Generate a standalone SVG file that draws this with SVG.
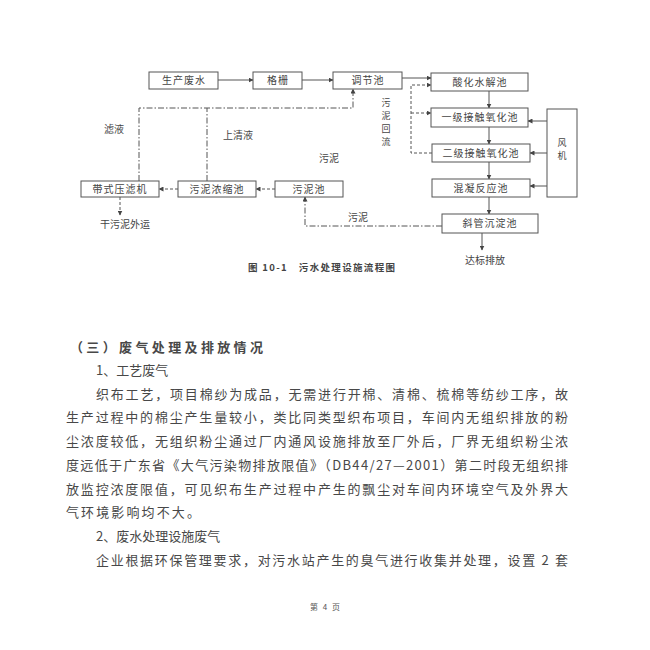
<svg xmlns="http://www.w3.org/2000/svg" width="650" height="650" viewBox="0 0 650 650">
<defs>
<marker id="ah" viewBox="0 0 10 10" refX="9" refY="5" markerWidth="5" markerHeight="5" orient="auto" markerUnits="userSpaceOnUse">
<path d="M0,0 L10,5 L0,10 z" fill="#444"/>
</marker>
<style>
.box{fill:#fff;stroke:#555;stroke-width:1}
.bt{font-family:"Noto Sans CJK SC","Noto Sans",sans-serif;font-size:10px;fill:#444;text-anchor:middle;letter-spacing:1px}
.lb{font-family:"Noto Sans CJK SC","Noto Sans",sans-serif;font-size:10px;fill:#444;text-anchor:middle}
.vt{font-family:"Noto Sans CJK SC","Noto Sans",sans-serif;font-size:9px;fill:#444;text-anchor:middle}
.ln{fill:none;stroke:#555;stroke-width:1}
.solid{marker-end:url(#ah)}
.dash{stroke-dasharray:3 2}
.dd{stroke-dasharray:6 2 1.5 2}
.body{font-family:"Noto Sans CJK SC","Noto Sans",sans-serif;font-size:13px;fill:#484848}
</style>
</defs>
<rect width="650" height="650" fill="#fff"/>

<g id="connectors">
<line class="ln solid" x1="218" y1="80" x2="253" y2="80"/>
<line class="ln solid" x1="302" y1="80" x2="333" y2="80"/>
<line class="ln solid" x1="402" y1="78" x2="431" y2="78"/>
<line class="ln solid" x1="489" y1="91" x2="489" y2="108"/>
<line class="ln solid" x1="489" y1="127" x2="489" y2="144"/>
<line class="ln solid" x1="489" y1="162" x2="489" y2="179"/>
<line class="ln solid" x1="489" y1="197" x2="489" y2="214"/>
<line class="ln solid" x1="482" y1="233" x2="482" y2="250"/>
<line class="ln solid" x1="547" y1="121" x2="528" y2="121"/>
<line class="ln solid" x1="547" y1="153" x2="530" y2="153"/>
<line class="ln solid" x1="547" y1="186" x2="530" y2="186"/>
<path class="ln dash" d="M432,153 H411 V85 H431" marker-end="url(#ah)"/>
<path class="ln dash" d="M411,113 H431" marker-end="url(#ah)"/>
<path class="ln dd" d="M442,226 H305 V197" marker-end="url(#ah)"/>
<path class="ln dash" d="M275,189 H256" marker-end="url(#ah)"/>
<path class="ln dash" d="M178,189 H159" marker-end="url(#ah)"/>
<path class="ln dash" d="M120,197 V215" marker-end="url(#ah)"/>
<path class="ln dd" d="M139,181 V108 H353 V89" marker-end="url(#ah)"/>
<path class="ln dd" d="M207,181 V108"/>
</g>

<g id="n-scfs"><rect class="box" x="149" y="72" width="69" height="17"/><text class="bt" x="184" y="84">生产废水</text></g>
<g id="n-gs"><rect class="box" x="253" y="72" width="49" height="17"/><text class="bt" x="278" y="84">格栅</text></g>
<g id="n-tjc"><rect class="box" x="333" y="72" width="69" height="17"/><text class="bt" x="368" y="84">调节池</text></g>
<g id="n-shsj"><rect class="box" x="431" y="73" width="97" height="18"/><text class="bt" x="480" y="86">酸化水解池</text></g>
<g id="n-yj"><rect class="box" x="431" y="108" width="97" height="19"/><text class="bt" x="480" y="121">一级接触氧化池</text></g>
<g id="n-ej"><rect class="box" x="432" y="144" width="98" height="18"/><text class="bt" x="481" y="157">二级接触氧化池</text></g>
<g id="n-hn"><rect class="box" x="432" y="179" width="98" height="18"/><text class="bt" x="481" y="192">混凝反应池</text></g>
<g id="n-xg"><rect class="box" x="442" y="214" width="96" height="19"/><text class="bt" x="490" y="227">斜管沉淀池</text></g>
<g id="n-fj"><rect class="box" x="547" y="109" width="30" height="88"/><text class="vt" x="562" y="146">风</text><text class="vt" x="562" y="159">机</text></g>
<g id="n-dslj"><rect class="box" x="81" y="181" width="78" height="16"/><text class="bt" x="120" y="193">带式压滤机</text></g>
<g id="n-wnns"><rect class="box" x="178" y="181" width="78" height="16"/><text class="bt" x="217" y="193">污泥浓缩池</text></g>
<g id="n-wnc"><rect class="box" x="275" y="181" width="68" height="16"/><text class="bt" x="309" y="193">污泥池</text></g>

<g id="labels">
<text class="lb" x="114" y="133">滤液</text>
<text class="lb" x="238" y="139">上清液</text>
<text class="vt" x="386" y="106">污</text>
<text class="vt" x="386" y="119">泥</text>
<text class="vt" x="386" y="132">回</text>
<text class="vt" x="386" y="145">流</text>
<text class="lb" x="329" y="162">污泥</text>
<text class="lb" x="358" y="221">污泥</text>
<text class="lb" x="125" y="228">干污泥外运</text>
<text class="lb" x="485" y="264">达标排放</text>
</g>

<text x="248" y="271" font-family="'Noto Sans CJK SC','Liberation Serif',serif" font-size="9.5" font-weight="bold" fill="#444" textLength="147" lengthAdjust="spacing">图 10-1　污水处理设施流程图</text>

<g id="body">
<text class="body" x="70" y="352" font-size="15" font-weight="bold" fill="#222" textLength="193" lengthAdjust="spacing">（三）废气处理及排放情况</text>
<text class="body" x="96" y="375">1、工艺废气</text>
<text class="body" x="96" y="399" textLength="472" lengthAdjust="spacing">织布工艺，项目棉纱为成品，无需进行开棉、清棉、梳棉等纺纱工序，故</text>
<text class="body" x="66" y="422" textLength="502" lengthAdjust="spacing">生产过程中的棉尘产生量较小，类比同类型织布项目，车间内无组织排放的粉</text>
<text class="body" x="66" y="446" textLength="502" lengthAdjust="spacing">尘浓度较低，无组织粉尘通过厂内通风设施排放至厂外后，厂界无组织粉尘浓</text>
<text class="body" x="66" y="470" textLength="502" lengthAdjust="spacing">度远低于广东省《大气污染物排放限值》（DB44/27—2001）第二时段无组织排</text>
<text class="body" x="66" y="494" textLength="502" lengthAdjust="spacing">放监控浓度限值，可见织布生产过程中产生的飘尘对车间内环境空气及外界大</text>
<text class="body" x="66" y="517" textLength="134" lengthAdjust="spacing">气环境影响均不大。</text>
<text class="body" x="96" y="541">2、废水处理设施废气</text>
<text class="body" x="96" y="565" textLength="472" lengthAdjust="spacing">企业根据环保管理要求，对污水站产生的臭气进行收集并处理，设置 2 套</text>
<text x="310" y="610" font-family="'Noto Sans CJK SC',sans-serif" font-size="8" fill="#555" textLength="30" lengthAdjust="spacing">第 4 页</text>
</g>
</svg>
